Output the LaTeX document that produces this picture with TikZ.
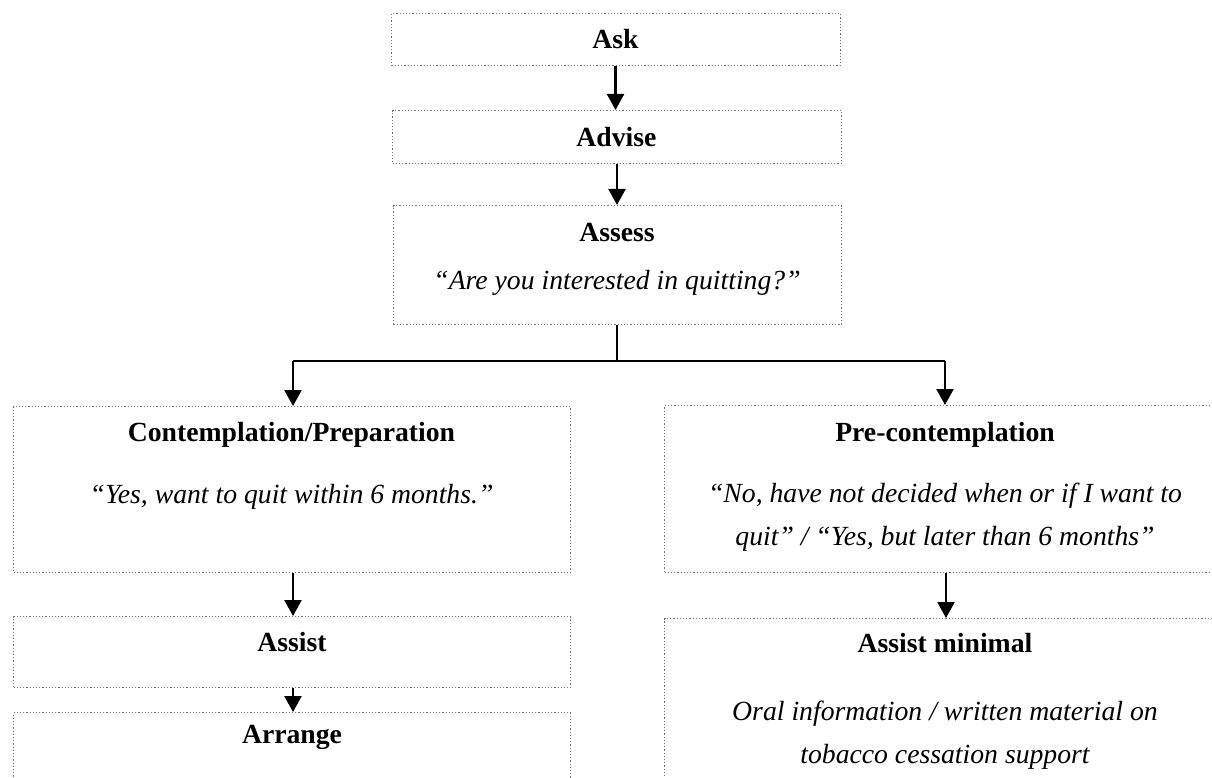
\documentclass[tikz,border=0pt]{standalone}
\usepackage{fontspec}
\setmainfont{Liberation Serif}
\usetikzlibrary{arrows.meta}
\tikzset{
  box/.style={draw=black!55, line width=1.2pt, dotted, rectangle, inner sep=0pt, anchor=north west},
  head/.style={font=\fontsize{27.7}{30}\selectfont\bfseries, inner sep=0pt},
  quote/.style={font=\fontsize{27.7}{43}\selectfont\itshape, inner sep=0pt, align=center},
  arr/.style={line width=2.5pt, -{Triangle[width=17pt,length=16pt]}},
  split/.style={line width=2pt}
}
\begin{document}
\begin{tikzpicture}[x=1pt,y=-1pt]
\clip (0,0) rectangle (1212,778);
\fill[white] (0,0) rectangle (1212,778);
% boxes
\node[box, minimum width=449pt, minimum height=52pt] (ask) at (391,13) {};
\node[box, minimum width=449pt, minimum height=53pt] (advise) at (392,110) {};
\node[box, minimum width=448pt, minimum height=119pt] (assess) at (393,205) {};
\node[box, minimum width=557pt, minimum height=166pt] (cont) at (13,406) {};
\node[box, minimum width=562pt, minimum height=167pt] (pre) at (664,405) {};
\node[box, minimum width=557pt, minimum height=71pt] (assist) at (13,616) {};
\node[box, minimum width=557pt, minimum height=100pt] (arrange) at (13,712) {};
\node[box, minimum width=562pt, minimum height=182pt] (amin) at (664,618) {};
% texts
\node[head] (tAsk) at (615.5,39) {Ask};
\node[head] (tAdvise) at (616.5,137) {Advise};
\node[head] (tAssess) at (617,232) {Assess};
\node[quote] (qAssess) at (617,283) {“Are you interested in quitting?”};
\node[head] (tCont) at (291.5,435) {Contemplation/Preparation};
\node[quote] (qCont) at (291.5,497) {“Yes, want to quit within 6 months.”};
\node[head] (tPre) at (945,435) {Pre-contemplation};
\node[quote, anchor=north] (qPre) at (945,483) {“No, have not decided when or if I want to\\quit” / “Yes, but later than 6 months”};
\node[head] (tAssist) at (292,642) {Assist};
\node[head] (tArrange) at (292,737) {Arrange};
\node[head] (tAmin) at (945,643) {Assist minimal};
\node[quote, anchor=north] (qAmin) at (945,701) {Oral information / written material on\\tobacco cessation support};
% connectors
\draw[arr] (ask.south -| 615.5,0) -- (advise.north -| 615.5,0);
\draw[arr] (advise.south -| 617,0) -- (assess.north -| 617,0);
\coordinate (sp) at (617,361);
\draw[split] (assess.south -| sp) -- (sp);
\draw[split] (sp) -- (293,361) coordinate (spl);
\draw[split] (sp) -- (945,361) coordinate (spr);
\draw[arr] (spl) -- (cont.north -| spl);
\draw[arr] (spr) -- (pre.north -| spr);
\draw[arr] (cont.south -| 293,0) -- (assist.north -| 293,0);
\draw[arr] (assist.south -| 293,0) -- (arrange.north -| 293,0);
\draw[arr] (pre.south -| 946,0) -- (amin.north -| 946,0);
\end{tikzpicture}
\end{document}
